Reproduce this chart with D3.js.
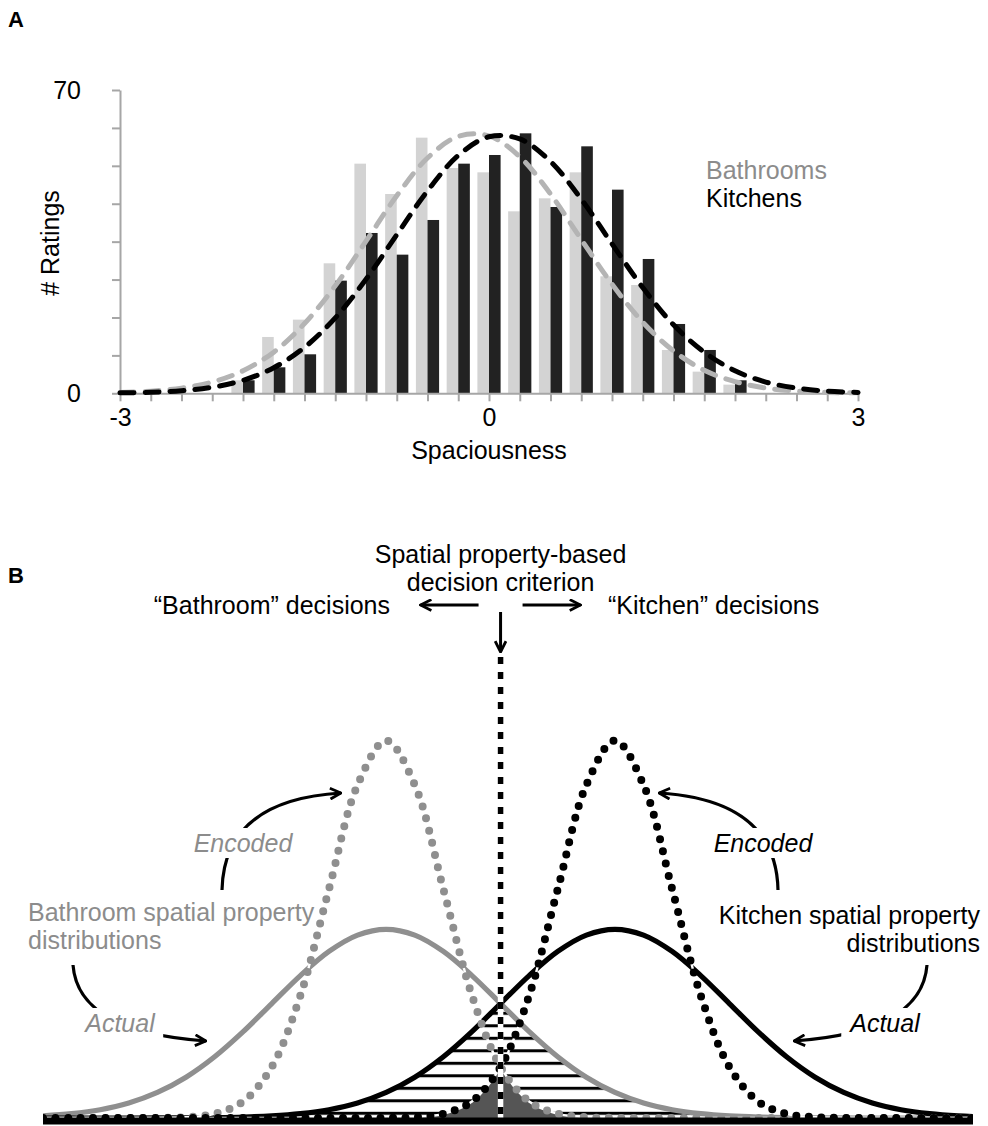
<!DOCTYPE html>
<html>
<head>
<meta charset="utf-8">
<script src="https://cdn.jsdelivr.net/npm/d3@7"></script>
<style>
  html, body { margin: 0; padding: 0; background: #fff; }
  svg { display: block; font-family: "Liberation Sans", Arial, Helvetica, sans-serif; }
</style>
</head>
<body>
<svg id="fig" width="988" height="1126"></svg>
<script>
// ---------- Panel A: spaciousness ratings ----------
const bins = [-2, -1.75, -1.5, -1.25, -1, -0.75, -0.5, -0.25, 0, 0.25, 0.5, 0.75, 1, 1.25, 1.5, 1.75, 2];
const bathroomCounts = [3, 13, 17, 30, 53, 46, 59, 52, 51, 42, 45, 51, 27, 25, 10, 5, 2];
const kitchenCounts  = [3, 6, 9, 26, 37, 32, 40, 53, 55, 60, 43, 57, 47, 31, 16, 10, 3];

// fitted curves, read at every quarter step from -3 to 3
const fitX = [-3, -2.75, -2.5, -2.25, -2, -1.75, -1.5, -1.25, -1, -0.75, -0.5, -0.25, 0,
              0.25, 0.5, 0.75, 1, 1.25, 1.5, 1.75, 2, 2.25, 2.5, 2.75, 3];
const bathroomFit = [0.2, 0.5, 1.2, 2.6, 5.2, 9.5, 16.1, 24.8, 35.1, 45.6, 54.3, 59.3, 59.4,
                     54.6, 46.0, 35.5, 25.2, 16.4, 9.8, 5.3, 2.7, 1.2, 0.5, 0.2, 0.1];
const kitchenFit  = [0.1, 0.25, 0.6, 1.4, 3.0, 5.9, 10.6, 17.4, 26.3, 36.6, 46.7, 54.9, 59.2,
                     58.7, 53.5, 44.8, 34.5, 24.4, 15.8, 9.5, 5.2, 2.6, 1.2, 0.5, 0.2];

const xTicks = [-3, -2.75, -2.5, -2.25, -2, -1.75, -1.5, -1.25, -1, -0.75, -0.5, -0.25, 0,
                0.25, 0.5, 0.75, 1, 1.25, 1.5, 1.75, 2, 2.25, 2.5, 2.75, 3];
const xLabelTicks = [-3, 0, 3];
const yTicks = [0, 8.75, 17.5, 26.25, 35, 43.75, 52.5, 61.25, 70];
const yLabelTicks = [0, 70];
const seriesNames = ["Bathrooms", "Kitchens"];

// ---------- Panel B: decision model ----------
const uB = [-4, -3.75, -3.5, -3.25, -3, -2.75, -2.5, -2.25, -2, -1.75, -1.5, -1.25, -1,
            -0.75, -0.5, -0.25, 0, 0.25, 0.5, 0.75, 1, 1.25, 1.5, 1.75, 2, 2.25, 2.5,
            2.75, 3, 3.25, 3.5, 3.75, 4, 4.25];
const bathActual = [0.0044, 0.0091, 0.0175, 0.0317, 0.0540, 0.0863, 0.1295, 0.1826, 0.2420,
                    0.3011, 0.3521, 0.3867, 0.3989, 0.3867, 0.3521, 0.3011, 0.2420, 0.1826,
                    0.1295, 0.0863, 0.0540, 0.0317, 0.0175, 0.0091, 0.0044, 0.0020, 0.0009,
                    0.0004, 0.0001, 0, 0, 0, 0, 0];
const kitchActual = [0, 0, 0, 0, 0.0001, 0.0004, 0.0009, 0.0020, 0.0044, 0.0091, 0.0175,
                     0.0317, 0.0540, 0.0863, 0.1295, 0.1826, 0.2420, 0.3011, 0.3521, 0.3867,
                     0.3989, 0.3867, 0.3521, 0.3011, 0.2420, 0.1826, 0.1295, 0.0863, 0.0540,
                     0.0317, 0.0175, 0.0091, 0.0044, 0.0020];
const bathEncoded = [0, 0, 0, 0, 0.0003, 0.0017, 0.0089, 0.0350, 0.1080, 0.2590, 0.4839,
                     0.7041, 0.7979, 0.7041, 0.4839, 0.2590, 0.1080, 0.0350, 0.0089, 0.0017,
                     0.0003, 0, 0, 0, 0, 0, 0, 0, 0, 0, 0, 0, 0, 0];
const kitchEncoded = [0, 0, 0, 0, 0, 0, 0, 0, 0, 0, 0, 0, 0.0003, 0.0017, 0.0089, 0.0350,
                      0.1080, 0.2590, 0.4839, 0.7041, 0.7979, 0.7041, 0.4839, 0.2590, 0.1080,
                      0.0350, 0.0089, 0.0017, 0.0003, 0, 0, 0, 0, 0];
const criterion = 0;

const GREY_TXT = "#8c8c8c";
const GREY_LINE = "#8f8f8f";
const FS = 25;

const svg = d3.select("#fig");
const defs = svg.append("defs");

// ===================== Panel A =====================
svg.append("text").attr("x", 8).attr("y", 27).attr("font-size", 22)
   .attr("font-weight", "bold").text("A");

const xA = d3.scaleLinear().domain([-3, 3]).range([120, 858]);
const yA = d3.scaleLinear().domain([0, 70]).range([393.3, 90]);
const sub = d3.scaleBand().domain(seriesNames).range([-11.6, 11.6]).padding(0);
const barColor = { Bathrooms: "#d3d3d3", Kitchens: "#222222" };

const barData = [];
bins.forEach((b, i) => {
  barData.push({ bin: b, s: "Bathrooms", v: bathroomCounts[i] });
  barData.push({ bin: b, s: "Kitchens", v: kitchenCounts[i] });
});

svg.append("g").selectAll("rect").data(barData).join("rect")
  .attr("x", d => xA(d.bin) + sub(d.s))
  .attr("width", sub.bandwidth())
  .attr("y", d => yA(d.v))
  .attr("height", d => yA(0) - yA(d.v))
  .attr("fill", d => barColor[d.s]);

// axes
const axisGrey = "#a6a6a6";
const gx = svg.append("g").attr("transform", `translate(0,${yA(0)})`)
  .call(d3.axisBottom(xA).tickValues(xTicks).tickSize(8).tickSizeOuter(0).tickPadding(7)
        .tickFormat(d => xLabelTicks.includes(d) ? String(d) : ""));
const gy = svg.append("g").attr("transform", `translate(${xA(-3)},0)`)
  .call(d3.axisLeft(yA).tickValues(yTicks).tickSize(8).tickSizeOuter(0).tickPadding(31)
        .tickFormat(d => yLabelTicks.includes(d) ? String(d) : ""));
[gx, gy].forEach(g => {
  g.select(".domain").attr("stroke", axisGrey).attr("stroke-width", 2);
  g.selectAll(".tick line").attr("stroke", axisGrey).attr("stroke-width", 2);
  g.selectAll(".tick text").attr("font-size", FS).attr("fill", "#000")
    .attr("font-family", "Liberation Sans, Arial, sans-serif");
});

// fitted curves
const fitLine = d3.line().x((d, i) => xA(fitX[i])).y(d => yA(d)).curve(d3.curveCatmullRom);
svg.append("path").datum(bathroomFit).attr("d", fitLine)
  .attr("fill", "none").attr("stroke", "#b4b4b4").attr("stroke-width", 5)
  .attr("stroke-dasharray", "14 11").attr("stroke-linecap", "round");
svg.append("path").datum(kitchenFit).attr("d", fitLine)
  .attr("fill", "none").attr("stroke", "#000").attr("stroke-width", 5)
  .attr("stroke-dasharray", "14 11").attr("stroke-linecap", "round");

// axis titles and legend
svg.append("text").attr("x", xA(0)).attr("y", 459).attr("text-anchor", "middle")
  .attr("font-size", FS).text("Spaciousness");
svg.append("text").attr("transform", "translate(50,243) rotate(-90)")
  .attr("text-anchor", "middle").attr("dy", "0.35em").attr("font-size", FS).text("# Ratings");
svg.append("text").attr("x", 706).attr("y", 179).attr("font-size", FS)
  .attr("fill", GREY_TXT).text(seriesNames[0]);
svg.append("text").attr("x", 706).attr("y", 207).attr("font-size", FS)
  .attr("fill", "#000").text(seriesNames[1]);

// ===================== Panel B =====================
svg.append("text").attr("x", 8).attr("y", 583).attr("font-size", 22)
   .attr("font-weight", "bold").text("B");

const xB = d3.scaleLinear().domain([-4, 4.13]).range([43, 973]);
const yB = d3.scaleLinear().domain([0, 0.8]).range([1118, 739.6]);

// arrowhead
defs.append("marker").attr("id", "head").attr("viewBox", "0 0 12 12")
  .attr("refX", 11).attr("refY", 6).attr("markerWidth", 13).attr("markerHeight", 13)
  .attr("markerUnits", "userSpaceOnUse").attr("orient", "auto")
  .append("path").attr("d", "M1,1 L11,6 L1,11").attr("fill", "none")
  .attr("stroke", "#000").attr("stroke-width", 2.6).attr("stroke-linejoin", "miter");

// hatch pattern for the overlap of the actual distributions
const hatch = defs.append("pattern").attr("id", "hatch").attr("patternUnits", "userSpaceOnUse")
  .attr("x", 0).attr("y", 11.8).attr("width", 20).attr("height", 12.5);
hatch.append("rect").attr("x", 0).attr("y", 0).attr("width", 20).attr("height", 3).attr("fill", "#000");

defs.append("clipPath").attr("id", "plotB").append("rect")
  .attr("x", xB(-4)).attr("y", 0).attr("width", xB(4.13) - xB(-4)).attr("height", 1126);

const areaB = d3.area().x((d, i) => xB(uB[i])).y0(yB(0)).y1(d => yB(d))
  .curve(d3.curveCatmullRom);
const lineB = d3.line().x((d, i) => xB(uB[i])).y(d => yB(d)).curve(d3.curveCatmullRom);

defs.append("clipPath").attr("id", "underBathActual")
  .append("path").datum(bathActual).attr("d", areaB);
defs.append("clipPath").attr("id", "underBathEncoded")
  .append("path").datum(bathEncoded).attr("d", areaB);

const gB = svg.append("g").attr("clip-path", "url(#plotB)");

// overlap of actual distributions (hatched)
gB.append("g").attr("clip-path", "url(#underBathActual)")
  .append("path").datum(kitchActual).attr("d", areaB).attr("fill", "url(#hatch)");
// overlap of encoded distributions (dark fill)
gB.append("g").attr("clip-path", "url(#underBathEncoded)")
  .append("path").datum(kitchEncoded).attr("d", areaB).attr("fill", "#555");

// actual distributions (solid)
gB.append("path").datum(bathActual).attr("d", lineB).attr("fill", "none")
  .attr("stroke", GREY_LINE).attr("stroke-width", 5.2);
gB.append("path").datum(kitchActual).attr("d", lineB).attr("fill", "none")
  .attr("stroke", "#000").attr("stroke-width", 5.2);

// encoded distributions (dotted, on a thin white underlay)
[bathEncoded, kitchEncoded].forEach(arr => {
  gB.append("path").datum(arr).attr("d", lineB).attr("fill", "none")
    .attr("stroke", "#fff").attr("stroke-width", 2.4);
});
gB.append("path").datum(bathEncoded).attr("d", lineB).attr("fill", "none")
  .attr("stroke", GREY_LINE).attr("stroke-width", 8)
  .attr("stroke-dasharray", "0 12.5").attr("stroke-linecap", "round");
gB.append("path").datum(kitchEncoded).attr("d", lineB).attr("fill", "none")
  .attr("stroke", "#000").attr("stroke-width", 8)
  .attr("stroke-dasharray", "0 12.5").attr("stroke-linecap", "round");

// decision criterion
const cx = xB(criterion);
svg.append("line").attr("x1", cx).attr("x2", cx).attr("y1", 657).attr("y2", yB(0))
  .attr("stroke", "#fff").attr("stroke-width", 5.5);
svg.append("line").attr("x1", cx).attr("x2", cx).attr("y1", 657).attr("y2", yB(0))
  .attr("stroke", "#000").attr("stroke-width", 5.5).attr("stroke-dasharray", "7 8");

// baseline
svg.append("line").attr("x1", xB(-4)).attr("x2", xB(4.13)).attr("y1", 1121).attr("y2", 1121)
  .attr("stroke", "#000").attr("stroke-width", 7);

// criterion caption and decision arrows
svg.append("text").attr("x", cx).attr("y", 563).attr("text-anchor", "middle")
  .attr("font-size", FS).text("Spatial property-based");
svg.append("text").attr("x", cx).attr("y", 591).attr("text-anchor", "middle")
  .attr("font-size", FS).text("decision criterion");
svg.append("text").attr("x", 390).attr("y", 614).attr("text-anchor", "end")
  .attr("font-size", FS).text("\u201CBathroom\u201D decisions");
svg.append("text").attr("x", 608).attr("y", 614).attr("text-anchor", "start")
  .attr("font-size", FS).text("\u201CKitchen\u201D decisions");

const arrow = (x1, y1, x2, y2) => svg.append("line")
  .attr("x1", x1).attr("y1", y1).attr("x2", x2).attr("y2", y2)
  .attr("stroke", "#000").attr("stroke-width", 3).attr("marker-end", "url(#head)");
arrow(cx, 612, cx, 652);
arrow(cx - 22, 605, cx - 80, 605);
arrow(cx + 22, 605, cx + 80, 605);

// curved annotation arrows
const curveArrow = d => svg.append("path").attr("d", d).attr("fill", "none")
  .attr("stroke", "#000").attr("stroke-width", 3.2).attr("marker-end", "url(#head)");
curveArrow("M222,890 Q224,800 341,793");
curveArrow("M778,890 Q776,800 659,793");
curveArrow("M73,965 Q78,1032 206,1041");
curveArrow("M927,965 Q922,1032 794,1041");

// labels drawn over a white box so they break the arrows
function boxedLabel(x, y, txt, color, anchor, italic, padX, padY) {
  const g = svg.append("g");
  const t = g.append("text").attr("x", x).attr("y", y).attr("text-anchor", anchor)
    .attr("font-size", FS).attr("fill", color)
    .attr("font-style", italic ? "italic" : "normal").text(txt);
  const bb = t.node().getBBox();
  g.insert("rect", "text").attr("x", bb.x - padX).attr("y", bb.y - padY)
    .attr("width", bb.width + 2 * padX).attr("height", bb.height + 2 * padY).attr("fill", "#fff");
}
boxedLabel(243, 852, "Encoded", GREY_TXT, "middle", true, 3, 1);
boxedLabel(763, 852, "Encoded", "#000", "middle", true, 3, 1);
boxedLabel(120, 1032, "Actual", GREY_TXT, "middle", true, 7, 1);
boxedLabel(885, 1032, "Actual", "#000", "middle", true, 7, 1);

svg.append("text").attr("x", 28).attr("y", 921).attr("font-size", FS).attr("fill", GREY_TXT)
  .text("Bathroom spatial property");
svg.append("text").attr("x", 28).attr("y", 949).attr("font-size", FS).attr("fill", GREY_TXT)
  .text("distributions");
svg.append("text").attr("x", 980).attr("y", 924).attr("text-anchor", "end").attr("font-size", FS)
  .text("Kitchen spatial property");
svg.append("text").attr("x", 980).attr("y", 952).attr("text-anchor", "end").attr("font-size", FS)
  .text("distributions");
</script>
</body>
</html>
